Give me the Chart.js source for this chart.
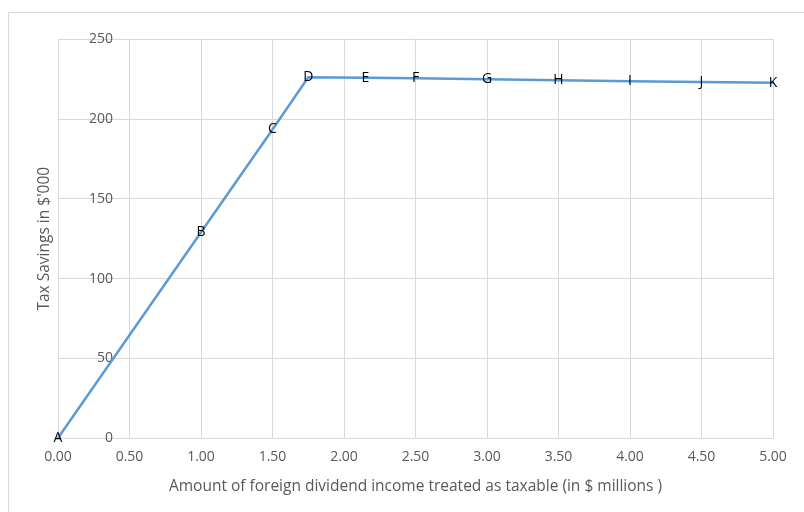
<!DOCTYPE html>
<html>
<head>
<meta charset="utf-8">
<script src="https://cdn.jsdelivr.net/npm/chart.js@4/dist/chart.umd.min.js"></script>
<style>
  html, body { margin: 0; padding: 0; background: #fff; overflow: hidden; }
  #frame { position: absolute; left: 0; top: 0; width: 804px; height: 512px; }
  #edge { position: absolute; left: 8px; top: 12px; width: 900px; height: 600px;
          border-left: 1px solid #d9d9d9; border-top: 1px solid #d9d9d9; box-sizing: border-box; }
  canvas { position: absolute; left: 0; top: 0; }
</style>
</head>
<body>
<div id="frame">
  <div id="edge"></div>
  <canvas id="chart" width="804" height="512"></canvas>
</div>
<script>
// Points along the tax-savings curve
const pointNames = ['A', 'B', 'C', 'D', 'E', 'F', 'G', 'H', 'I', 'J', 'K'];
const incomeMillions = [0, 1.0, 1.5, 1.75, 2.15, 2.5, 3.0, 3.5, 4.0, 4.5, 5.0];
const savingsThousands = [0, 129, 193.5, 226.2, 226.0, 225.6, 225.0, 224.4, 223.8, 223.3, 222.8];

const xTitle = 'Amount of foreign dividend income treated as taxable (in $ millions )';
const yTitle = "Tax Savings in $'000";

const FONT = '"Open Sans", "DejaVu Sans", sans-serif';
const GREY = '#595959';
const GRID = '#d9d9d9';

// Letter labels centred on each point
const pointLabels = {
  id: 'pointLabels',
  afterDatasetsDraw(chart) {
    const ctx = chart.ctx;
    const meta = chart.getDatasetMeta(0);
    ctx.save();
    ctx.font = '14px ' + FONT;
    ctx.fillStyle = '#000';
    ctx.textAlign = 'center';
    ctx.textBaseline = 'middle';
    meta.data.forEach((el, i) => {
      ctx.fillText(pointNames[i], el.x, el.y);
    });
    ctx.restore();
  }
};

new Chart(document.getElementById('chart'), {
  type: 'scatter',
  data: {
    datasets: [{
      data: incomeMillions.map((x, i) => ({ x: x, y: savingsThousands[i] })),
      showLine: true,
      borderColor: '#5b9bd5',
      borderWidth: 2.5,
      pointRadius: 0,
      pointHoverRadius: 0,
      tension: 0,
      clip: false
    }]
  },
  options: {
    responsive: false,
    animation: false,
    events: [],
    layout: { autoPadding: false, padding: { left: 30, top: 36, right: 31, bottom: 12 } },
    plugins: { legend: { display: false }, tooltip: { enabled: false } },
    scales: {
      x: {
        type: 'linear',
        min: 0, max: 5,
        afterFit(scale) { scale.height = 62; },
        ticks: {
          stepSize: 0.5,
          color: GREY,
          font: { family: FONT, size: 14 },
          padding: 11,
          maxRotation: 0,
          autoSkip: false,
          callback: v => Number(v).toFixed(2)
        },
        grid: { color: GRID, lineWidth: 1, drawTicks: false },
        border: { display: false },
        title: {
          display: true,
          text: xTitle,
          color: GREY,
          font: { family: FONT, size: 15.5 },
          padding: { top: 0, bottom: 4 }
        }
      },
      y: {
        min: 0, max: 250,
        afterFit(scale) { scale.width = 28; },
        ticks: {
          stepSize: 50,
          color: GREY,
          font: { family: FONT, size: 14 },
          mirror: true,
          crossAlign: 'far',
          padding: 31
        },
        grid: { color: GRID, lineWidth: 1, drawTicks: false },
        border: { display: false },
        title: {
          display: true,
          text: yTitle,
          color: GREY,
          font: { family: FONT, size: 15.5 },
          padding: { top: 5, bottom: 0 }
        }
      }
    }
  },
  plugins: [pointLabels]
});
</script>
</body>
</html>
